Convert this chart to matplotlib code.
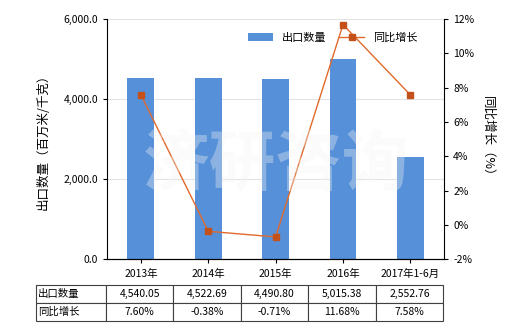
import matplotlib
matplotlib.use('Agg')
import matplotlib.pyplot as plt
from matplotlib.ticker import FuncFormatter
import numpy as np

plt.rcParams['font.family'] = ['Noto Sans CJK SC', 'DejaVu Sans']
plt.rcParams['axes.unicode_minus'] = False

categories = ['2013年', '2014年', '2015年', '2016年', '2017年1-6月']
export_qty = [4540.05, 4522.69, 4490.80, 5015.38, 2552.76]
yoy_growth = [7.60, -0.38, -0.71, 11.68, 7.58]
qty_labels = ['4,540.05', '4,522.69', '4,490.80', '5,015.38', '2,552.76']
growth_labels = ['7.60%', '-0.38%', '-0.71%', '11.68%', '7.58%']

bar_color = '#5590D9'
line_color = '#E06A2C'
marker_color = '#C4501A'

fig = plt.figure(figsize=(5.2, 3.3), dpi=100)
ax = fig.add_axes([0.206, 0.215, 0.648, 0.727])
x = np.arange(len(categories))

ax.bar(x, export_qty, width=0.4, color=bar_color, label='出口数量', zorder=2)
ax.set_ylim(0, 6000)
ax.set_yticks([0, 2000, 4000, 6000])
ax.yaxis.set_major_formatter(FuncFormatter(lambda v, p: '{:,.1f}'.format(v)))
ax.set_xlim(-0.5, len(categories) - 0.5)
ax.set_xticks(x)
ax.set_xticklabels(categories)
ax.grid(axis='y', color='#E3E3E3', linewidth=0.8, zorder=0)
ax.tick_params(labelsize=7.5, length=3, width=0.8)
ax.tick_params(axis='x', pad=4)
ax.set_ylabel('出口数量（百万米/千克）', fontsize=9, labelpad=10)
for s in ['top', 'right']:
    ax.spines[s].set_visible(False)

ax2 = ax.twinx()
ax2.plot(x, yoy_growth, color=line_color, linewidth=1.0, marker='s', markersize=4,
         markerfacecolor=marker_color, markeredgecolor=marker_color, label='同比增长', zorder=3)
ax2.set_ylim(-2, 12)
ax2.set_yticks(range(-2, 13, 2))
ax2.yaxis.set_major_formatter(FuncFormatter(lambda v, p: '{:.0f}%'.format(v)))
ax2.tick_params(labelsize=7.5, length=3, width=0.8)
ax2.set_ylabel('同比增长（%）', fontsize=9, rotation=270, labelpad=14)
for s in ['top', 'left']:
    ax2.spines[s].set_visible(False)

# faint watermark
fig.text(0.53, 0.5, '济研咨询', fontsize=48, color='#F4F4F4', alpha=0.35,
         ha='center', va='center', zorder=5, fontweight='bold')

h1, l1 = ax.get_legend_handles_labels()
h2, l2 = ax2.get_legend_handles_labels()
ax2.legend(h1 + h2, l1 + l2, loc='upper right', bbox_to_anchor=(0.95, 0.985), ncol=2,
           frameon=False, fontsize=8, handlelength=2.2, columnspacing=1.2)

tbl = ax.table(cellText=[['出口数量'] + qty_labels, ['同比增长'] + growth_labels],
               bbox=[-0.211, -0.258, 1.208, 0.15],
               colWidths=[70] + [67.4] * 5, cellLoc='center')
tbl.auto_set_font_size(False)
tbl.set_fontsize(7.5)
for (r, c), cell in tbl.get_celld().items():
    cell.set_edgecolor('#404040')
    cell.set_linewidth(0.8)
    if c == 0:
        cell.get_text().set_ha('left')
        cell.PAD = 0.03

fig.savefig('out.png', dpi=100)
